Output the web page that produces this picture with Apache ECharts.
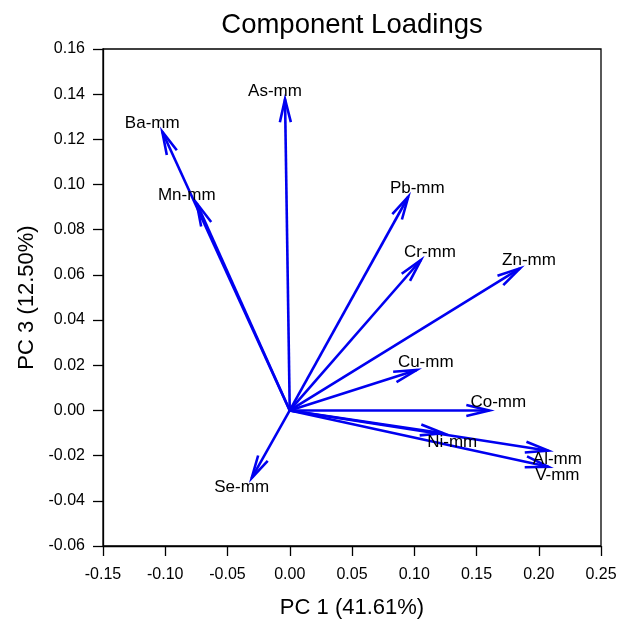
<!DOCTYPE html>
<html>
<head>
<meta charset="utf-8">
<script src="https://cdn.jsdelivr.net/npm/echarts@6/dist/echarts.min.js"></script>
<style>html,body{margin:0;padding:0;background:#fff;}#c{width:631px;height:627px;}</style>
</head>
<body>
<div id="c"></div>
<script>
const variables = ['As-mm','Ba-mm','Mn-mm','Pb-mm','Cr-mm','Zn-mm','Cu-mm','Co-mm','Ni-mm','Al-mm','V-mm','Se-mm'];
const pc1 = [-0.0038,-0.1024,-0.0747,0.0952,0.1054,0.1849,0.1020,0.1603,0.1233,0.2077,0.2077,-0.0306];
const pc3 = [0.1378,0.1234,0.0917,0.0946,0.0666,0.0629,0.0179,0.0000,-0.0101,-0.0178,-0.0249,-0.0300];
const xTicks = [-0.15,-0.10,-0.05,0.00,0.05,0.10,0.15,0.20,0.25];
const yTicks = [-0.06,-0.04,-0.02,0.00,0.02,0.04,0.06,0.08,0.10,0.12,0.14,0.16];

const FONT = 'Liberation Sans, Arial, sans-serif';
const BLUE = '#0000f0';
const chart = echarts.init(document.getElementById('c'));
const pts = variables.map((n,i)=>[pc1[i], pc3[i]]);

chart.setOption({
  animation:false,
  backgroundColor:'#fff',
  title:{text:'Component Loadings', left:347, top:6, textAlign:'center',
    textStyle:{fontFamily:FONT, fontSize:27.5, fontWeight:'normal', color:'#000'}},
  grid:{left:103, right:30, top:49, bottom:81, show:true, borderColor:'#000', borderWidth:1.3},
  xAxis:{type:'value', min:xTicks[0], max:xTicks[xTicks.length-1], interval:0.05,
    name:'PC 1 (41.61%)', nameLocation:'middle', nameGap:51,
    nameTextStyle:{fontFamily:FONT, fontSize:22, color:'#000'},
    axisLine:{onZero:false, lineStyle:{color:'#000', width:1.3}},
    axisTick:{show:true, inside:false, length:10, lineStyle:{color:'#000', width:1.3}},
    axisLabel:{fontFamily:FONT, fontSize:16, color:'#000', margin:21, formatter:v=>v.toFixed(2)},
    splitLine:{show:false}},
  yAxis:{type:'value', min:yTicks[0], max:yTicks[yTicks.length-1], interval:0.02,
    name:'PC 3 (12.50%)', nameLocation:'middle', nameGap:65, nameRotate:90,
    nameTextStyle:{fontFamily:FONT, fontSize:22, color:'#000'},
    axisLine:{onZero:false, lineStyle:{color:'#000', width:1.3}},
    axisTick:{show:true, inside:false, length:10, lineStyle:{color:'#000', width:1.3}},
    axisLabel:{fontFamily:FONT, fontSize:16, color:'#000', margin:18, formatter:v=>v.toFixed(2)},
    splitLine:{show:false}},
  series:[{
    type:'custom',
    clip:false,
    data:pts,
    renderItem:function(params, api){
      const x = api.value(0), y = api.value(1);
      const o = api.coord([0,0]);
      const t = api.coord([x,y]);
      const ang = Math.atan2(t[1]-o[1], t[0]-o[0]);
      const L = 23, W = 5.5;
      const bx = t[0]-L*Math.cos(ang), by = t[1]-L*Math.sin(ang);
      const px = -Math.sin(ang), py = Math.cos(ang);
      const p1 = [bx+W*px, by+W*py], p2 = [bx-W*px, by-W*py];
      const name = variables[params.dataIndex];
      const dx = x < 0 ? -10 : 9;
      const dy = y >= 0 ? -8 : 9;
      return {type:'group', children:[
        {type:'line', shape:{x1:o[0], y1:o[1], x2:t[0], y2:t[1]}, style:{stroke:BLUE, lineWidth:2.6}},
        {type:'polyline', shape:{points:[p1, t, p2]}, style:{stroke:BLUE, lineWidth:2.6, fill:null}},
        {type:'text', z2:10, style:{text:name, x:t[0]+dx, y:t[1]+dy, align:'center', verticalAlign:'middle',
          fill:'#000', fontSize:17, fontFamily:FONT}}
      ]};
    }
  }]
});
</script>
</body>
</html>
